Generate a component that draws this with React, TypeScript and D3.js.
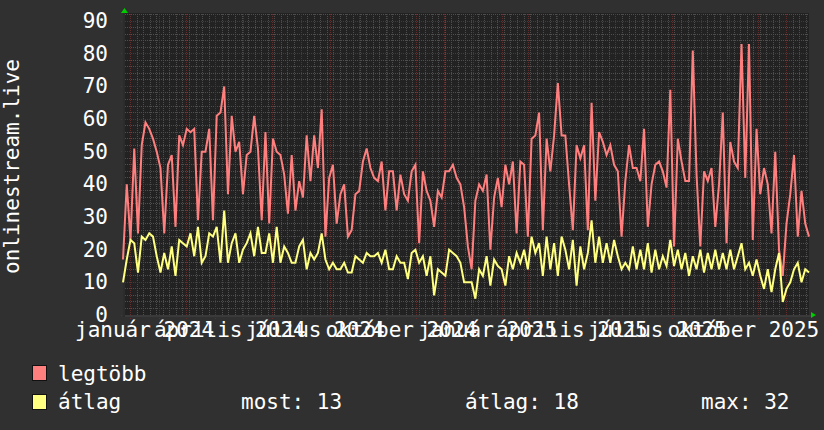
import { useEffect } from 'react';
import * as d3 from 'd3';

// one sample every 4 days, from 24 Dec 2023
const START = new Date(2023, 11, 24);
const END = new Date(2025, 11, 25);
const STEP_DAYS = 4;

const maxValues = [
  17, 40, 23, 51, 25, 52, 59, 57, 54, 50,
  45, 25, 46, 49, 27, 55, 52, 57, 56, 57,
  29, 50, 50, 57, 29, 61, 62, 70, 37, 61,
  50, 53, 37, 49, 50, 61, 51, 29, 56, 28,
  54, 50, 49, 43, 31, 49, 32, 41, 36, 55,
  41, 55, 45, 63, 24, 42, 46, 28, 37, 40,
  24, 26, 37, 38, 47, 51, 45, 42, 41, 47,
  32, 44, 44, 32, 43, 37, 35, 44, 46, 22,
  44, 38, 35, 27, 38, 36, 44, 44, 46, 42,
  40, 33,
  21, 14, 35, 40, 38, 43, 20, 36, 42, 33,
  46, 40, 47, 25, 47, 46, 24, 54, 55, 62,
  26, 54, 44, 55, 71, 55, 55, 40, 26, 52,
  48, 52, 26, 65, 35, 56, 53, 49, 52, 46,
  44, 24, 41, 52, 45, 45, 41, 57, 27, 40,
  46, 47, 44, 39, 69, 21, 54, 47, 41, 41,
  81, 43, 21, 44, 41, 45, 27, 40, 62, 22,
  53, 47, 45, 83, 42, 83, 23, 57, 37, 45,
  40, 25, 50, 20, 12, 28, 37, 49, 24, 38,
  28, 24,
];

const avgValues = [
  10, 17, 23, 22, 13, 24, 23, 25, 24, 18,
  13, 19, 14, 21, 12, 23, 22, 21, 25, 18,
  27, 16, 18, 25, 24, 27, 16, 32, 16, 22,
  25, 16, 20, 22, 25, 18, 27, 19, 19, 25,
  16, 27, 16, 21, 19, 16, 16, 21, 23, 14,
  19, 17, 19, 25, 17, 14, 16, 14, 14, 16,
  13, 13, 18, 17, 16, 19, 18, 18, 19, 16,
  20, 14, 14, 18, 16, 16, 11, 19, 20, 16,
  18, 12, 18, 6, 14, 13, 12, 20, 19, 18,
  16, 10,
  10, 10, 5, 14, 12, 18, 9, 17, 15, 14,
  9, 18, 14, 19, 16, 20, 14, 24, 19, 22,
  12, 24, 14, 22, 12, 24, 20, 14, 23, 9,
  21, 14, 19, 29, 16, 24, 16, 22, 16, 23,
  18, 14, 16, 14, 21, 14, 20, 14, 22, 13,
  20, 14, 18, 15, 23, 15, 20, 14, 19, 12,
  18, 14, 20, 13, 19, 14, 20, 14, 19, 14,
  20, 14, 18, 22, 14, 16, 12, 17, 12, 8,
  14, 7, 14, 19, 4, 8, 10, 14, 16, 10,
  14, 13,
];

const yTicks = [0, 10, 20, 30, 40, 50, 60, 70, 80, 90];
const xLabels = [
  'január 2024', 'április 2024', 'július 2024', 'október 2024',
  'január 2025', 'április 2025', 'július 2025', 'október 2025',
];
const xLabelDates = [
  new Date(2024, 0, 16), new Date(2024, 3, 16), new Date(2024, 6, 16), new Date(2024, 9, 16),
  new Date(2025, 0, 16), new Date(2025, 3, 16), new Date(2025, 6, 16), new Date(2025, 9, 16),
];
const seriesNames = ['legtöbb', 'átlag'];
const stats = ['most: 13', 'átlag: 18', 'max: 32'];

const BG = '#303030';
const PLOT_BG = '#222222';
const RED = '#ff7f7f';
const YELLOW = '#ffff80';
const GRID = '#4e4e4e';
const MGRID = '#662c2c';
const FONT = '"DejaVu Sans Mono", monospace';

export default function App() {
  useEffect(() => {
    document.body.style.margin = '0';
    document.body.style.background = BG;
  }, []);

  const x = d3.scaleTime().domain([START, END]).range([123, 809]);
  const y = d3.scaleLinear().domain([0, 92.3]).range([315, 13.6]);
  const dateAt = (i: number) => d3.timeDay.offset(START, i * STEP_DAYS);

  const line = d3.line<number>()
    .x((_, i) => x(dateAt(i)))
    .y(d => y(d))
    .curve(d3.curveLinear);

  const px = (v: number) => Math.floor(v) + 0.5;
  const [x0, x1] = x.range();
  const top = 14;
  const bottom = 315;

  const minorY = d3.range(0, 93, 2).filter(v => v % 10 !== 0);
  const minorX = d3.timeMonday.range(START, END);
  const majorX = d3.timeMonth.range(START, END);

  return (
    <svg width={824} height={430} style={{ display: 'block', background: BG }} fontFamily={FONT}>
      <rect x={x0} y={13} width={x1 - x0} height={bottom - 13} fill={PLOT_BG} />

      <g shapeRendering="crispEdges" strokeDasharray="1 1" strokeWidth={1}>
        {minorY.map(v => (
          <line key={'my' + v} x1={x0} x2={x1} y1={px(y(v))} y2={px(y(v))} stroke={GRID} />
        ))}
        {minorX.map(d => (
          <line key={'mx' + d.getTime()} x1={px(x(d))} x2={px(x(d))} y1={top} y2={bottom + 2} stroke={GRID} />
        ))}
        {yTicks.map(v => (
          <line key={'Y' + v} x1={x0 - 2} x2={x1} y1={px(y(v))} y2={px(y(v))} stroke={MGRID} />
        ))}
        {majorX.map(d => (
          <line key={'X' + d.getTime()} x1={px(x(d))} x2={px(x(d))} y1={top} y2={bottom + 4} stroke={MGRID} />
        ))}
      </g>

      <g shapeRendering="crispEdges">
        <line x1={x0} x2={x1 + 2} y1={bottom + 1} y2={bottom + 1} stroke="#3a3a3a" strokeWidth={2} />
        <line x1={x0 + 1} x2={x0 + 1} y1={13} y2={bottom + 2} stroke="#2c2c2c" strokeWidth={2} />
      </g>
      <path d={`M${x0 - 2},${top - 1} L${x0 + 5},${top - 1} L${x0 + 1.5},${top - 6} Z`} fill="#00cc00" />
      <path d={`M${x1 + 2},${bottom - 3} L${x1 + 2},${bottom + 3} L${x1 + 7},${bottom} Z`} fill="#00cc00" />

      <path d={line(maxValues) ?? ''} fill="none" stroke={RED} strokeWidth={2} strokeLinejoin="miter" />
      <path d={line(avgValues) ?? ''} fill="none" stroke={YELLOW} strokeWidth={2} strokeLinejoin="miter" />

      <g fill="#ffffff" fontSize={21}>
        {yTicks.map(v => (
          <text key={'yl' + v} x={108} y={y(v) + 7} textAnchor="end">{v}</text>
        ))}
        {xLabels.map((t, i) => (
          <text key={'xl' + i} x={x(xLabelDates[i])} y={337} textAnchor="middle">{t}</text>
        ))}
        <text transform={`translate(19,${(bottom + top) / 2 + 2}) rotate(-90)`} textAnchor="middle">onlinestream.live</text>

        <rect x={32.5} y={365.5} width={14} height={15} fill={RED} stroke="#111" />
        <text x={58} y={381}>{seriesNames[0]}</text>
        <rect x={32.5} y={394.5} width={14} height={15} fill={YELLOW} stroke="#111" />
        <text x={58} y={409}>{seriesNames[1]}</text>
        <text x={241} y={409}>{stats[0]}</text>
        <text x={465} y={409}>{stats[1]}</text>
        <text x={701} y={409}>{stats[2]}</text>
      </g>
    </svg>
  );
}
